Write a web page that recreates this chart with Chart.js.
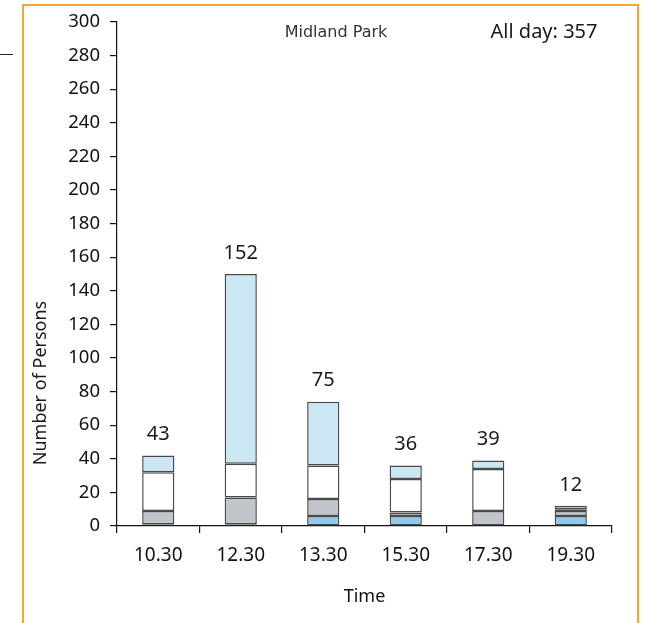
<!DOCTYPE html>
<html>
<head>
<meta charset="utf-8">
<script src="https://cdn.jsdelivr.net/npm/chart.js@4.4.1/dist/chart.umd.min.js"></script>
<style>
  html, body { margin: 0; padding: 0; background: #fff; }
  #wrap { position: relative; width: 648px; height: 623px; overflow: hidden; }
  #frame { position: absolute; left: 22px; top: 4px; width: 613px; height: 700px;
           border: 2px solid #f7a52e; }
  #tick { position: absolute; left: 0; top: 54px; width: 13px; height: 1px; background: #222; }
  canvas { position: absolute; left: 0; top: 0; }
</style>
</head>
<body>
<div id="wrap">
  <div id="frame"></div>
  <div id="tick"></div>
  <canvas id="chart" width="648" height="623"></canvas>
</div>
<script>
const times = ["10.30", "12.30", "13.30", "15.30", "17.30", "19.30"];
// stacked segments, bottom to top
const blueSeg = [1, 1, 6, 6, 0, 6];
const greySeg = [8, 16, 10, 2, 9, 3];
const whiteSeg = [23, 20, 20, 20, 25, 1];
const lightSeg = [10, 113, 38, 8, 5, 2];
const totals = [43, 152, 75, 36, 39, 12];
const yTicks = [0, 20, 40, 60, 80, 100, 120, 140, 160, 180, 200, 220, 240, 260, 280, 300];

const FONT = "'Noto Sans', sans-serif";

function seg(label, data, color) {
  return {
    label: label,
    data: data,
    backgroundColor: color,
    borderColor: "#4a4a4a",
    borderWidth: 1.5,
    borderSkipped: false,
    barPercentage: 0.39,
    categoryPercentage: 1
  };
}

const extras = {
  id: "extras",
  afterDatasetsDraw(chart) {
    const ctx = chart.ctx;
    const x = chart.scales.x, y = chart.scales.y;
    ctx.save();
    ctx.fillStyle = "#1a1a1a";
    ctx.textAlign = "center";
    ctx.textBaseline = "middle";
    ctx.font = "20px " + FONT;
    totals.forEach((t, i) => {
      const top = blueSeg[i] + greySeg[i] + whiteSeg[i] + lightSeg[i];
      ctx.fillText(String(t), x.getPixelForValue(i), y.getPixelForValue(top) - 21);
    });

    ctx.fillStyle = "#333";
    ctx.font = "16px 'DejaVu Sans', sans-serif";
    ctx.fillText("Midland Park", 336, 33);
    ctx.fillStyle = "#1a1a1a";
    ctx.font = "20px " + FONT;
    ctx.fillText("All day: 357", 544, 32);

    ctx.translate(41, 383);
    ctx.rotate(-Math.PI / 2);
    ctx.font = "18px " + FONT;
    ctx.fillText("Number of Persons", 0, 0);
    ctx.restore();
  }
};

new Chart(document.getElementById("chart").getContext("2d"), {
  type: "bar",
  data: {
    labels: times,
    datasets: [
      seg("blue", blueSeg, "#90c9ec"),
      seg("grey", greySeg, "#c1c4cb"),
      seg("white", whiteSeg, "#ffffff"),
      seg("light", lightSeg, "#cbe7f3")
    ]
  },
  options: {
    responsive: false,
    animation: false,
    layout: { padding: { left: 23, top: 22, right: 36, bottom: 0 } },
    plugins: {
      legend: { display: false },
      tooltip: { enabled: false }
    },
    scales: {
      x: {
        stacked: true,
        afterFit(s) { s.height = 97; },
        grid: { drawOnChartArea: false, color: "#111", tickLength: 7, lineWidth: 1.2 },
        border: { color: "#111", width: 1.2 },
        ticks: { color: "#111", font: { family: FONT, size: 19 }, padding: 11 },
        title: { display: true, text: "Time", color: "#111",
                 font: { family: FONT, size: 18 }, padding: { top: 15, bottom: 15 } }
      },
      y: {
        stacked: true,
        min: 0,
        max: 300,
        afterFit(s) { s.width = 94; },
        afterBuildTicks(s) { s.ticks = yTicks.map(v => ({ value: v })); },
        grid: { drawOnChartArea: false, color: "#111", tickLength: 7, lineWidth: 1.2 },
        border: { color: "#111", width: 1.2 },
        ticks: { color: "#111", font: { family: FONT, size: 18.5 }, padding: 10 }
      }
    }
  },
  plugins: [extras]
});
</script>
</body>
</html>
